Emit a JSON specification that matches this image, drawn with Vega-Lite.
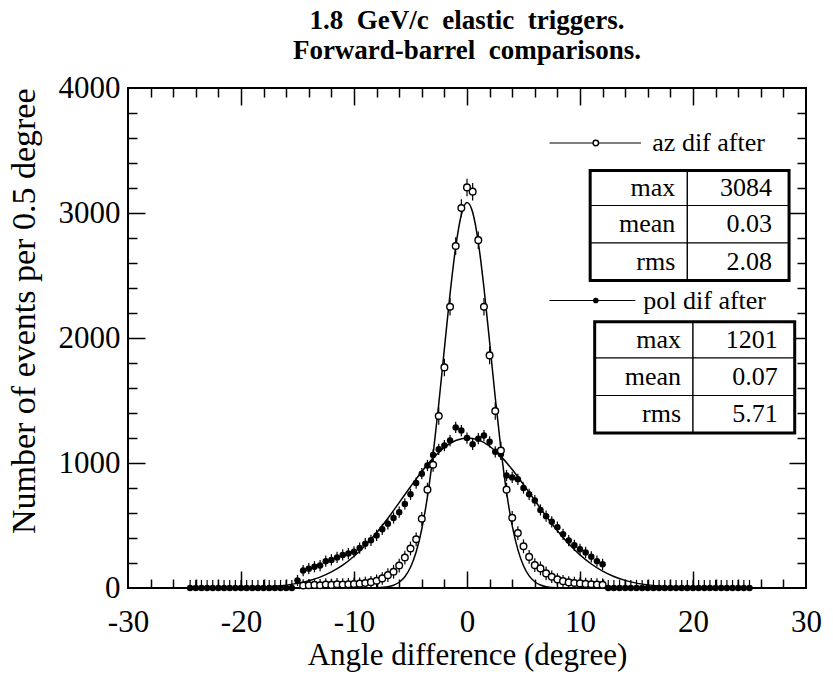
{
  "$schema": "https://vega.github.io/schema/vega-lite/v6.json",
  "width": 678,
  "height": 500,
  "autosize": {"type": "none"},
  "padding": {"left": 128, "top": 88, "right": 27, "bottom": 98},
  "background": "white",
  "title": {
    "text": ["1.8\u00a0\u00a0GeV/c\u00a0\u00a0elastic\u00a0\u00a0triggers.", "Forward-barrel\u00a0\u00a0comparisons."],
    "font": "Liberation Serif", "fontSize": 27, "fontWeight": "bold", "color": "black",
    "anchor": "middle", "offset": 7, "lineHeight": 30
  },
  "config": {
    "view": {"stroke": "black", "strokeWidth": 2},
    "axis": {"grid": false, "domain": false, "tickColor": "black", "tickWidth": 1.5, "labelColor": "black", "titleColor": "black", "labelFont": "Liberation Serif", "titleFont": "Liberation Serif"}
  },
  "resolve": {"axis": {"x": "independent", "y": "independent"}},
  "datasets": {
    "fitaz": [
      {"x": -25, "y": 0}, {"x": -10, "y": 0}, {"x": -9, "y": 0}, {"x": -8, "y": 2}, {"x": -7, "y": 10},
      {"x": -6.5, "y": 22}, {"x": -6, "y": 46}, {"x": -5.5, "y": 90}, {"x": -5, "y": 166}, {"x": -4.5, "y": 288},
      {"x": -4, "y": 472}, {"x": -3.5, "y": 731}, {"x": -3, "y": 1067}, {"x": -2.5, "y": 1472}, {"x": -2, "y": 1915},
      {"x": -1.5, "y": 2353}, {"x": -1, "y": 2728}, {"x": -0.5, "y": 2986}, {"x": 0, "y": 3084}, {"x": 0.5, "y": 3006},
      {"x": 1, "y": 2766}, {"x": 1.5, "y": 2402}, {"x": 2, "y": 1969}, {"x": 2.5, "y": 1524}, {"x": 3, "y": 1113},
      {"x": 3.5, "y": 767}, {"x": 4, "y": 499}, {"x": 4.5, "y": 307}, {"x": 5, "y": 178}, {"x": 5.5, "y": 97},
      {"x": 6, "y": 50}, {"x": 6.5, "y": 24}, {"x": 7, "y": 11}, {"x": 8, "y": 2}, {"x": 9, "y": 0}, {"x": 10, "y": 0}, {"x": 25, "y": 0}
    ],
    "fitpol": [
      {"x": -25, "y": 0}, {"x": -20, "y": 2.5}, {"x": -18, "y": 8}, {"x": -16, "y": 23}, {"x": -15, "y": 37},
      {"x": -14, "y": 58}, {"x": -13, "y": 87}, {"x": -12, "y": 129}, {"x": -11, "y": 183}, {"x": -10, "y": 254},
      {"x": -9, "y": 340}, {"x": -8, "y": 442}, {"x": -7, "y": 558}, {"x": -6, "y": 683}, {"x": -5, "y": 810},
      {"x": -4, "y": 932}, {"x": -3, "y": 1039}, {"x": -2, "y": 1125}, {"x": -1, "y": 1180}, {"x": 0, "y": 1201},
      {"x": 1, "y": 1185}, {"x": 2, "y": 1134}, {"x": 3, "y": 1053}, {"x": 4, "y": 948}, {"x": 5, "y": 827},
      {"x": 6, "y": 700}, {"x": 7, "y": 575}, {"x": 8, "y": 458}, {"x": 9, "y": 354}, {"x": 10, "y": 265},
      {"x": 11, "y": 192}, {"x": 12, "y": 135}, {"x": 13, "y": 92}, {"x": 14, "y": 61}, {"x": 15, "y": 39},
      {"x": 16, "y": 25}, {"x": 18, "y": 9}, {"x": 20, "y": 3}, {"x": 25, "y": 0}
    ],
    "az": [
      {"x": -14.5, "y": 20, "lo": 0, "hi": 70}, {"x": -14, "y": 22, "lo": 0, "hi": 72}, {"x": -13.5, "y": 25, "lo": 0, "hi": 75},
      {"x": -13, "y": 22, "lo": 0, "hi": 72}, {"x": -12.5, "y": 28, "lo": 0, "hi": 78}, {"x": -12, "y": 25, "lo": 0, "hi": 75},
      {"x": -11.5, "y": 30, "lo": 0, "hi": 80}, {"x": -11, "y": 28, "lo": 0, "hi": 78}, {"x": -10.5, "y": 30, "lo": 0, "hi": 80},
      {"x": -10, "y": 32, "lo": 0, "hi": 82}, {"x": -9.5, "y": 35, "lo": 0, "hi": 85}, {"x": -9, "y": 40, "lo": 0, "hi": 90},
      {"x": -8.5, "y": 47, "lo": 0, "hi": 97}, {"x": -8, "y": 58, "lo": 8, "hi": 108}, {"x": -7.5, "y": 77, "lo": 27, "hi": 127},
      {"x": -7, "y": 103, "lo": 48, "hi": 158}, {"x": -6.5, "y": 130, "lo": 75, "hi": 185}, {"x": -6, "y": 180, "lo": 125, "hi": 235},
      {"x": -5.5, "y": 244, "lo": 189, "hi": 299}, {"x": -5, "y": 316, "lo": 261, "hi": 371}, {"x": -4.5, "y": 390, "lo": 335, "hi": 445},
      {"x": -4, "y": 554, "lo": 499, "hi": 609}, {"x": -3.5, "y": 787, "lo": 732, "hi": 842}, {"x": -3, "y": 986, "lo": 931, "hi": 1041},
      {"x": -2.5, "y": 1376, "lo": 1306, "hi": 1446}, {"x": -2, "y": 1765, "lo": 1695, "hi": 1835}, {"x": -1.5, "y": 2250, "lo": 2180, "hi": 2320},
      {"x": -1, "y": 2736, "lo": 2666, "hi": 2806}, {"x": -0.5, "y": 3040, "lo": 2970, "hi": 3110}, {"x": 0, "y": 3205, "lo": 3135, "hi": 3275},
      {"x": 0.5, "y": 3171, "lo": 3101, "hi": 3241}, {"x": 1, "y": 2783, "lo": 2713, "hi": 2853}, {"x": 1.5, "y": 2250, "lo": 2180, "hi": 2320},
      {"x": 2, "y": 1861, "lo": 1791, "hi": 1931}, {"x": 2.5, "y": 1416, "lo": 1346, "hi": 1486}, {"x": 3, "y": 1100, "lo": 1030, "hi": 1170},
      {"x": 3.5, "y": 787, "lo": 732, "hi": 842}, {"x": 4, "y": 562, "lo": 507, "hi": 617}, {"x": 4.5, "y": 440, "lo": 385, "hi": 495},
      {"x": 5, "y": 334, "lo": 279, "hi": 389}, {"x": 5.5, "y": 249, "lo": 194, "hi": 304}, {"x": 6, "y": 183, "lo": 128, "hi": 238},
      {"x": 6.5, "y": 157, "lo": 102, "hi": 212}, {"x": 7, "y": 117, "lo": 62, "hi": 172}, {"x": 7.5, "y": 90, "lo": 40, "hi": 140},
      {"x": 8, "y": 69, "lo": 19, "hi": 119}, {"x": 8.5, "y": 55, "lo": 5, "hi": 105}, {"x": 9, "y": 45, "lo": 0, "hi": 95},
      {"x": 9.5, "y": 40, "lo": 0, "hi": 90}, {"x": 10, "y": 37, "lo": 0, "hi": 87}, {"x": 10.5, "y": 33, "lo": 0, "hi": 83},
      {"x": 11, "y": 30, "lo": 0, "hi": 80}, {"x": 11.5, "y": 28, "lo": 0, "hi": 78}, {"x": 12, "y": 26, "lo": 0, "hi": 76}
    ],
    "pol": [
      {"x": -24.5, "y": 0, "lo": 0, "hi": 65}, {"x": -24, "y": 0, "lo": 0, "hi": 65}, {"x": -23.5, "y": 0, "lo": 0, "hi": 65},
      {"x": -23, "y": 0, "lo": 0, "hi": 65}, {"x": -22.5, "y": 0, "lo": 0, "hi": 65}, {"x": -22, "y": 0, "lo": 0, "hi": 65},
      {"x": -21.5, "y": 0, "lo": 0, "hi": 65}, {"x": -21, "y": 0, "lo": 0, "hi": 65}, {"x": -20.5, "y": 0, "lo": 0, "hi": 65},
      {"x": -20, "y": 0, "lo": 0, "hi": 65}, {"x": -19.5, "y": 0, "lo": 0, "hi": 65}, {"x": -19, "y": 0, "lo": 0, "hi": 65},
      {"x": -18.5, "y": 0, "lo": 0, "hi": 65}, {"x": -18, "y": 0, "lo": 0, "hi": 65}, {"x": -17.5, "y": 0, "lo": 0, "hi": 65},
      {"x": -17, "y": 0, "lo": 0, "hi": 65}, {"x": -16.5, "y": 0, "lo": 0, "hi": 65}, {"x": -16, "y": 0, "lo": 0, "hi": 65},
      {"x": -15.5, "y": 0, "lo": 0, "hi": 65},
      {"x": -15, "y": 60, "lo": 15, "hi": 105}, {"x": -14.5, "y": 140, "lo": 95, "hi": 185}, {"x": -14, "y": 155, "lo": 110, "hi": 200},
      {"x": -13.5, "y": 170, "lo": 125, "hi": 215}, {"x": -13, "y": 180, "lo": 135, "hi": 225}, {"x": -12.5, "y": 215, "lo": 170, "hi": 260},
      {"x": -12, "y": 225, "lo": 180, "hi": 270}, {"x": -11.5, "y": 245, "lo": 200, "hi": 290}, {"x": -11, "y": 265, "lo": 220, "hi": 310},
      {"x": -10.5, "y": 276, "lo": 231, "hi": 321}, {"x": -10, "y": 290, "lo": 245, "hi": 335}, {"x": -9.5, "y": 320, "lo": 275, "hi": 365},
      {"x": -9, "y": 355, "lo": 310, "hi": 400}, {"x": -8.5, "y": 382, "lo": 337, "hi": 427}, {"x": -8, "y": 421, "lo": 376, "hi": 466},
      {"x": -7.5, "y": 470, "lo": 425, "hi": 515}, {"x": -7, "y": 514, "lo": 469, "hi": 559}, {"x": -6.5, "y": 560, "lo": 515, "hi": 605},
      {"x": -6, "y": 607, "lo": 562, "hi": 652}, {"x": -5.5, "y": 673, "lo": 628, "hi": 718}, {"x": -5, "y": 750, "lo": 705, "hi": 795},
      {"x": -4.5, "y": 840, "lo": 795, "hi": 885}, {"x": -4, "y": 915, "lo": 870, "hi": 960}, {"x": -3.5, "y": 980, "lo": 935, "hi": 1025},
      {"x": -3, "y": 1065, "lo": 1020, "hi": 1110}, {"x": -2.5, "y": 1110, "lo": 1065, "hi": 1155}, {"x": -2, "y": 1140, "lo": 1095, "hi": 1185},
      {"x": -1.5, "y": 1180, "lo": 1135, "hi": 1225}, {"x": -1, "y": 1285, "lo": 1240, "hi": 1330}, {"x": -0.5, "y": 1260, "lo": 1215, "hi": 1305},
      {"x": 0, "y": 1200, "lo": 1155, "hi": 1245}, {"x": 0.5, "y": 1150, "lo": 1105, "hi": 1195}, {"x": 1, "y": 1195, "lo": 1150, "hi": 1240},
      {"x": 1.5, "y": 1220, "lo": 1175, "hi": 1265}, {"x": 2, "y": 1170, "lo": 1125, "hi": 1215}, {"x": 2.5, "y": 1090, "lo": 1045, "hi": 1135},
      {"x": 3, "y": 1070, "lo": 1025, "hi": 1115}, {"x": 3.5, "y": 900, "lo": 855, "hi": 945}, {"x": 4, "y": 885, "lo": 840, "hi": 930},
      {"x": 4.5, "y": 870, "lo": 825, "hi": 915}, {"x": 5, "y": 800, "lo": 755, "hi": 845}, {"x": 5.5, "y": 750, "lo": 705, "hi": 795},
      {"x": 6, "y": 700, "lo": 655, "hi": 745}, {"x": 6.5, "y": 625, "lo": 580, "hi": 670}, {"x": 7, "y": 575, "lo": 530, "hi": 620},
      {"x": 7.5, "y": 530, "lo": 485, "hi": 575}, {"x": 8, "y": 487, "lo": 442, "hi": 532}, {"x": 8.5, "y": 430, "lo": 385, "hi": 475},
      {"x": 9, "y": 380, "lo": 335, "hi": 425}, {"x": 9.5, "y": 342, "lo": 297, "hi": 387}, {"x": 10, "y": 310, "lo": 265, "hi": 355},
      {"x": 10.5, "y": 285, "lo": 240, "hi": 330}, {"x": 11, "y": 250, "lo": 205, "hi": 295}, {"x": 11.5, "y": 215, "lo": 170, "hi": 260},
      {"x": 12, "y": 190, "lo": 145, "hi": 235},
      {"x": 12.5, "y": 0, "lo": 0, "hi": 65}, {"x": 13, "y": 0, "lo": 0, "hi": 65}, {"x": 13.5, "y": 0, "lo": 0, "hi": 65},
      {"x": 14, "y": 0, "lo": 0, "hi": 65}, {"x": 14.5, "y": 0, "lo": 0, "hi": 65}, {"x": 15, "y": 0, "lo": 0, "hi": 65},
      {"x": 15.5, "y": 0, "lo": 0, "hi": 65}, {"x": 16, "y": 0, "lo": 0, "hi": 65}, {"x": 16.5, "y": 0, "lo": 0, "hi": 65},
      {"x": 17, "y": 0, "lo": 0, "hi": 65}, {"x": 17.5, "y": 0, "lo": 0, "hi": 65}, {"x": 18, "y": 0, "lo": 0, "hi": 65},
      {"x": 18.5, "y": 0, "lo": 0, "hi": 65}, {"x": 19, "y": 0, "lo": 0, "hi": 65}, {"x": 19.5, "y": 0, "lo": 0, "hi": 65},
      {"x": 20, "y": 0, "lo": 0, "hi": 65}, {"x": 20.5, "y": 0, "lo": 0, "hi": 65}, {"x": 21, "y": 0, "lo": 0, "hi": 65},
      {"x": 21.5, "y": 0, "lo": 0, "hi": 65}, {"x": 22, "y": 0, "lo": 0, "hi": 65}, {"x": 22.5, "y": 0, "lo": 0, "hi": 65},
      {"x": 23, "y": 0, "lo": 0, "hi": 65}, {"x": 23.5, "y": 0, "lo": 0, "hi": 65}, {"x": 24, "y": 0, "lo": 0, "hi": 65},
      {"x": 24.5, "y": 0, "lo": 0, "hi": 65}, {"x": 25, "y": 0, "lo": 0, "hi": 65}
    ],
    "cells": [
      {"tbl": "az", "stat": "max", "val": "3084", "xl": 10.9, "xd": 19.5, "xr": 28.5, "y0": 3060, "y1": 3340, "ym": 3200},
      {"tbl": "az", "stat": "mean", "val": "0.03", "xl": 10.9, "xd": 19.5, "xr": 28.5, "y0": 2760, "y1": 3060, "ym": 2910},
      {"tbl": "az", "stat": "rms", "val": "2.08", "xl": 10.9, "xd": 19.5, "xr": 28.5, "y0": 2460, "y1": 2760, "ym": 2610},
      {"tbl": "pol", "stat": "max", "val": "1201", "xl": 11.3, "xd": 20.0, "xr": 29.0, "y0": 1840, "y1": 2130, "ym": 1985},
      {"tbl": "pol", "stat": "mean", "val": "0.07", "xl": 11.3, "xd": 20.0, "xr": 29.0, "y0": 1540, "y1": 1840, "ym": 1690},
      {"tbl": "pol", "stat": "rms", "val": "5.71", "xl": 11.3, "xd": 20.0, "xr": 29.0, "y0": 1240, "y1": 1540, "ym": 1390}
    ],
    "frames": [
      {"tbl": "az", "xl": 10.9, "xr": 28.5, "y0": 2460, "y1": 3340},
      {"tbl": "pol", "xl": 11.3, "xr": 29.0, "y0": 1240, "y1": 2130}
    ],
    "legend": [
      {"s": "az", "label": "az dif after", "x0": 7.3, "x1": 15.4, "xm": 11.4, "xt": 16.4, "y": 3560},
      {"s": "pol", "label": "pol dif after", "x0": 7.3, "x1": 14.9, "xm": 11.4, "xt": 15.6, "y": 2300}
    ]
  },
  "layer": [
    {
      "data": {"name": "fitpol"},
      "mark": {"type": "line", "color": "black", "strokeWidth": 1.5, "interpolate": "monotone", "clip": true},
      "encoding": {
        "x": {"field": "x", "type": "quantitative", "scale": {"domain": [-30, 30], "nice": false, "zero": false},
          "axis": {"orient": "bottom", "values": [-30, -20, -10, 0, 10, 20, 30], "ticks": false, "tickSize": 0, "labelPadding": 19, "labelFontSize": 31, "labelExpr": "'' + datum.value", "labelFlush": false, "labelOverlap": false,
            "title": "Angle difference (degree)", "titleFontSize": 31, "titleFontWeight": "normal", "titlePadding": 3}},
        "y": {"field": "y", "type": "quantitative", "scale": {"domain": [0, 4000], "nice": false},
          "axis": {"orient": "left", "values": [0, 1000, 2000, 3000, 4000], "ticks": false, "tickSize": 0, "labelPadding": 8, "labelFontSize": 31, "labelFlush": false, "labelOverlap": false, "format": "d",
            "title": "Number of events per 0.5 degree", "titleFontSize": 34, "titleFontWeight": "normal", "titlePadding": 17, "titleAnchor": "end"}}
      }
    },
    {
      "data": {"name": "fitaz"},
      "mark": {"type": "line", "color": "black", "strokeWidth": 1.5, "interpolate": "monotone", "clip": true},
      "encoding": {
        "x": {"field": "x", "type": "quantitative", "scale": {"domain": [-30, 30], "nice": false, "zero": false},
          "axis": {"orient": "bottom", "offset": -17, "tickSize": 17, "values": [-20, -10, 0, 10, 20], "labels": false, "title": null}},
        "y": {"field": "y", "type": "quantitative", "scale": {"domain": [0, 4000], "nice": false},
          "axis": {"orient": "left", "offset": -17, "tickSize": 17, "values": [1000, 2000, 3000], "labels": false, "title": null}}
      }
    },
    {
      "data": {"name": "pol"},
      "mark": {"type": "rule", "color": "black", "strokeWidth": 1.2, "clip": true},
      "encoding": {
        "x": {"field": "x", "type": "quantitative", "scale": {"domain": [-30, 30], "nice": false, "zero": false},
          "axis": {"orient": "bottom", "offset": -9, "tickSize": 9, "values": [-28, -26, -24, -22, -18, -16, -14, -12, -8, -6, -4, -2, 2, 4, 6, 8, 12, 14, 16, 18, 22, 24, 26, 28], "labels": false, "title": null}},
        "y": {"field": "lo", "type": "quantitative", "scale": {"domain": [0, 4000], "nice": false},
          "axis": {"orient": "left", "offset": -9, "tickSize": 9, "values": [200, 400, 600, 800, 1200, 1400, 1600, 1800, 2200, 2400, 2600, 2800, 3200, 3400, 3600, 3800], "labels": false, "title": null}},
        "y2": {"field": "hi"}
      }
    },
    {
      "data": {"name": "pol"},
      "mark": {"type": "point", "shape": "circle", "filled": true, "color": "black", "size": 42, "opacity": 1},
      "encoding": {
        "x": {"field": "x", "type": "quantitative", "scale": {"domain": [-30, 30], "nice": false, "zero": false},
          "axis": {"orient": "top", "offset": -17, "tickSize": 17, "values": [-20, -10, 0, 10, 20], "labels": false, "title": null}},
        "y": {"field": "y", "type": "quantitative", "scale": {"domain": [0, 4000], "nice": false},
          "axis": {"orient": "right", "offset": -17, "tickSize": 17, "values": [1000, 2000, 3000], "labels": false, "title": null}}
      }
    },
    {
      "data": {"name": "az"},
      "mark": {"type": "rule", "color": "black", "strokeWidth": 1.2, "clip": true},
      "encoding": {
        "x": {"field": "x", "type": "quantitative", "scale": {"domain": [-30, 30], "nice": false, "zero": false},
          "axis": {"orient": "top", "offset": -9, "tickSize": 9, "values": [-28, -26, -24, -22, -18, -16, -14, -12, -8, -6, -4, -2, 2, 4, 6, 8, 12, 14, 16, 18, 22, 24, 26, 28], "labels": false, "title": null}},
        "y": {"field": "lo", "type": "quantitative", "scale": {"domain": [0, 4000], "nice": false},
          "axis": {"orient": "right", "offset": -9, "tickSize": 9, "values": [200, 400, 600, 800, 1200, 1400, 1600, 1800, 2200, 2400, 2600, 2800, 3200, 3400, 3600, 3800], "labels": false, "title": null}},
        "y2": {"field": "hi"}
      }
    },
    {
      "data": {"name": "az"},
      "mark": {"type": "point", "shape": "circle", "filled": true, "fill": "white", "stroke": "black", "strokeWidth": 1.4, "size": 44, "opacity": 1},
      "encoding": {
        "x": {"field": "x", "type": "quantitative", "scale": {"domain": [-30, 30], "nice": false, "zero": false}, "axis": null},
        "y": {"field": "y", "type": "quantitative", "scale": {"domain": [0, 4000], "nice": false}, "axis": null}
      }
    },
    {
      "data": {"name": "cells"},
      "mark": {"type": "rect", "fill": "white", "stroke": "black", "strokeWidth": 1.2},
      "encoding": {
        "x": {"field": "xl", "type": "quantitative", "scale": {"domain": [-30, 30], "nice": false, "zero": false}, "axis": null},
        "x2": {"field": "xd"},
        "y": {"field": "y0", "type": "quantitative", "scale": {"domain": [0, 4000], "nice": false}, "axis": null},
        "y2": {"field": "y1"}
      }
    },
    {
      "data": {"name": "cells"},
      "mark": {"type": "rect", "fill": "white", "stroke": "black", "strokeWidth": 1.2},
      "encoding": {
        "x": {"field": "xd", "type": "quantitative", "scale": {"domain": [-30, 30], "nice": false, "zero": false}, "axis": null},
        "x2": {"field": "xr"},
        "y": {"field": "y0", "type": "quantitative", "scale": {"domain": [0, 4000], "nice": false}, "axis": null},
        "y2": {"field": "y1"}
      }
    },
    {
      "data": {"name": "frames"},
      "mark": {"type": "rect", "fill": null, "filled": false, "stroke": "black", "strokeWidth": 3},
      "encoding": {
        "x": {"field": "xl", "type": "quantitative", "scale": {"domain": [-30, 30], "nice": false, "zero": false}, "axis": null},
        "x2": {"field": "xr"},
        "y": {"field": "y0", "type": "quantitative", "scale": {"domain": [0, 4000], "nice": false}, "axis": null},
        "y2": {"field": "y1"}
      }
    },
    {
      "data": {"name": "cells"},
      "mark": {"type": "text", "font": "Liberation Serif", "fontSize": 26, "align": "right", "baseline": "middle", "dx": -12, "color": "black"},
      "encoding": {
        "x": {"field": "xd", "type": "quantitative", "scale": {"domain": [-30, 30], "nice": false, "zero": false}, "axis": null},
        "y": {"field": "ym", "type": "quantitative", "scale": {"domain": [0, 4000], "nice": false}, "axis": null},
        "text": {"field": "stat"}
      }
    },
    {
      "data": {"name": "cells"},
      "mark": {"type": "text", "font": "Liberation Serif", "fontSize": 26, "align": "right", "baseline": "middle", "dx": -17, "color": "black"},
      "encoding": {
        "x": {"field": "xr", "type": "quantitative", "scale": {"domain": [-30, 30], "nice": false, "zero": false}, "axis": null},
        "y": {"field": "ym", "type": "quantitative", "scale": {"domain": [0, 4000], "nice": false}, "axis": null},
        "text": {"field": "val"}
      }
    },
    {
      "data": {"name": "legend"},
      "mark": {"type": "rule", "color": "black", "strokeWidth": 1.2},
      "encoding": {
        "x": {"field": "x0", "type": "quantitative", "scale": {"domain": [-30, 30], "nice": false, "zero": false}, "axis": null},
        "x2": {"field": "x1"},
        "y": {"field": "y", "type": "quantitative", "scale": {"domain": [0, 4000], "nice": false}, "axis": null}
      }
    },
    {
      "data": {"name": "legend"},
      "transform": [{"filter": "datum.s == 'az'"}],
      "mark": {"type": "point", "shape": "circle", "filled": true, "fill": "white", "stroke": "black", "strokeWidth": 1.4, "size": 30, "opacity": 1},
      "encoding": {
        "x": {"field": "xm", "type": "quantitative", "scale": {"domain": [-30, 30], "nice": false, "zero": false}, "axis": null},
        "y": {"field": "y", "type": "quantitative", "scale": {"domain": [0, 4000], "nice": false}, "axis": null}
      }
    },
    {
      "data": {"name": "legend"},
      "transform": [{"filter": "datum.s == 'pol'"}],
      "mark": {"type": "point", "shape": "circle", "filled": true, "color": "black", "size": 32, "opacity": 1},
      "encoding": {
        "x": {"field": "xm", "type": "quantitative", "scale": {"domain": [-30, 30], "nice": false, "zero": false}, "axis": null},
        "y": {"field": "y", "type": "quantitative", "scale": {"domain": [0, 4000], "nice": false}, "axis": null}
      }
    },
    {
      "data": {"name": "legend"},
      "mark": {"type": "text", "font": "Liberation Serif", "fontSize": 26, "align": "left", "baseline": "middle", "color": "black"},
      "encoding": {
        "x": {"field": "xt", "type": "quantitative", "scale": {"domain": [-30, 30], "nice": false, "zero": false}, "axis": null},
        "y": {"field": "y", "type": "quantitative", "scale": {"domain": [0, 4000], "nice": false}, "axis": null},
        "text": {"field": "label"}
      }
    }
  ]
}
